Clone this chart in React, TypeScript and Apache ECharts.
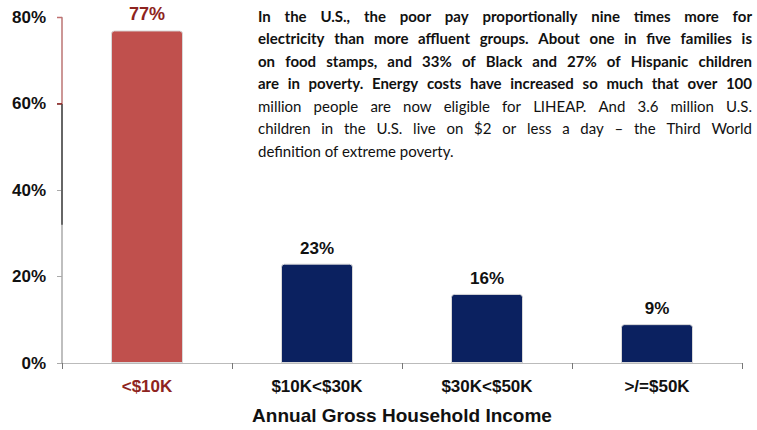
import React, { useEffect, useRef } from "react";
import * as echarts from "echarts";

const categories = ["<$10K", "$10K<$30K", "$30K<$50K", ">/=$50K"];
const shares = [77, 23, 16, 9];
const barColors = ["#C0504D", "#0B2160", "#0B2160", "#0B2160"];
const labelColors = ["#8E2420", "#111111", "#111111", "#111111"];
const yTicks = [0, 20, 40, 60, 80];
const xTitle = "Annual Gross Household Income";
const noteLines = [
  "In the U.S., the poor pay proportionally nine times more for",
  "electricity than more affluent groups. About one in five families is",
  "on food stamps, and 33% of Black and 27% of Hispanic children",
  "are in poverty. Energy costs have increased so much that over 100",
  "million people are now eligible for LIHEAP.  And 3.6 million U.S.",
  "children in the U.S. live on $2 or less a day \u2013 the Third World",
  "definition of extreme poverty.",
];

const TEXT_LEFT = 258;
const TEXT_RIGHT = 752;

function buildNote() {
  const canvas = document.createElement("canvas");
  const ctx = canvas.getContext("2d");
  const out: any[] = [];
  noteLines.forEach((line, i) => {
    const font = `${i < 4 ? "bold" : "normal"} 15px Lato, "Liberation Sans", sans-serif`;
    const top = 8 + i * 22.5;
    const isLast = i === noteLines.length - 1;
    if (isLast || !ctx) {
      out.push({ type: "text", left: TEXT_LEFT, top, style: { text: line, font, fill: "#111111" } });
      return;
    }
    ctx.font = font;
    const words = line.split(/ +/);
    const widths = words.map((w) => ctx.measureText(w).width);
    const total = widths.reduce((a, b) => a + b, 0);
    const gap = (TEXT_RIGHT - TEXT_LEFT - total) / (words.length - 1);
    let x = TEXT_LEFT;
    words.forEach((w, k) => {
      out.push({ type: "text", x, y: top, style: { text: w, font, fill: "#111111" } });
      x += widths[k] + gap;
    });
  });
  return out;
}

export default function App() {
  const ref = useRef<HTMLDivElement>(null);
  useEffect(() => {
    if (!ref.current) return;
    const chart = echarts.init(ref.current, null, { renderer: "svg" });
    const note = buildNote();
    chart.setOption({
      animation: false,
      grid: { left: 62, right: 15, top: 17.5, bottom: 63.5, containLabel: false },
      xAxis: {
        type: "category",
        data: categories,
        name: xTitle,
        nameLocation: "middle",
        nameGap: 43,
        nameTextStyle: { fontFamily: "Liberation Sans, Arial", fontWeight: "bold", fontSize: 19, color: "#111" },
        axisLine: { lineStyle: { color: "#BBBBBB", width: 1 } },
        axisTick: { show: true, length: 6, lineStyle: { color: "#777" } },
        axisLabel: {
          margin: 15,
          fontFamily: "Liberation Sans, Arial",
          fontWeight: "bold",
          fontSize: 17,
          color: (v: string, i: number) => labelColors[i],
        },
      },
      yAxis: {
        type: "value",
        min: 0,
        max: 80,
        interval: 20,
        axisLine: { show: true, lineStyle: { color: "#AAAAAA", width: 1.5 } },
        axisTick: { show: true, length: 5, lineStyle: { color: "#AAAAAA" } },
        splitLine: { show: false },
        axisLabel: {
          margin: 16,
          fontFamily: "Liberation Sans, Arial",
          fontWeight: "bold",
          fontSize: 17,
          color: "#111",
          formatter: (v: number) => (yTicks.includes(v) ? `${v}%` : ""),
        },
      },
      series: [
        {
          type: "bar",
          barWidth: 72,
          data: shares.map((v, i) => ({
            value: v,
            itemStyle: { color: barColors[i] },
            label: { color: labelColors[i], fontSize: i === 0 ? 18 : 17 },
          })),
          itemStyle: { borderColor: "#D8D8D8", borderWidth: 1, borderRadius: [3, 3, 0, 0] },
          label: {
            show: true,
            position: "top",
            distance: 7,
            formatter: "{c}%",
            fontFamily: "Liberation Sans, Arial",
            fontWeight: "bold",
            fontSize: 17,
          },
        },
      ],
      graphic: note,
    });
    // coloured segments of the y axis line, as in the reference
    const x0 = chart.convertToPixel({ xAxisIndex: 0 }, 0) - 85;
    const p80 = chart.convertToPixel({ yAxisIndex: 0 }, 80);
    const p60 = chart.convertToPixel({ yAxisIndex: 0 }, 60);
    const p32 = chart.convertToPixel({ yAxisIndex: 0 }, 32);
    chart.setOption({
      graphic: [
        ...note,
        { type: "line", shape: { x1: x0, y1: p80, x2: x0, y2: p60 }, style: { stroke: "#D08A88", lineWidth: 1.5 }, z: 10 },
        { type: "line", shape: { x1: x0, y1: p60, x2: x0, y2: p32 }, style: { stroke: "#666666", lineWidth: 2 }, z: 10 },
        { type: "line", shape: { x1: x0 - 5, y1: p60, x2: x0, y2: p60 }, style: { stroke: "#8E2420", lineWidth: 1.5 }, z: 10 },
        { type: "line", shape: { x1: x0 - 5, y1: p80, x2: x0, y2: p80 }, style: { stroke: "#C07070", lineWidth: 1.5 }, z: 10 },
      ],
    });
    return () => chart.dispose();
  }, []);
  return (
    <div
      ref={ref}
      style={{ position: "fixed", left: 0, top: 0, width: 757, height: 430, background: "#fff" }}
    />
  );
}
